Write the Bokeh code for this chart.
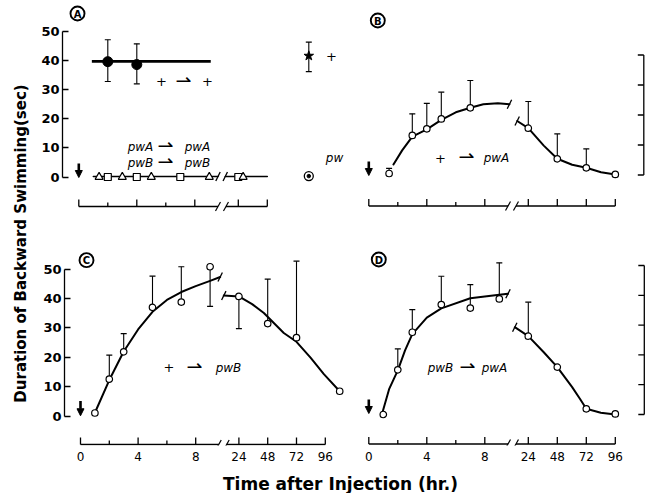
import math
from bokeh.plotting import figure
from bokeh.models import Range1d, LinearAxis, FixedTicker, Arrow, NormalHead
from bokeh.layouts import row, column
from bokeh.embed import file_html
from bokeh.resources import INLINE
from bokeh.core.properties import value

NAN = float("nan")
FONT_NAME = "DejaVu Sans"
FONT = value(FONT_NAME)

# ---------------- data (hours after injection -> seconds of backward swimming) ----------------
X_TICK_HOURS = [0, 2, 4, 6, 8, 24, 48, 72, 96]
X_MAJOR_HOURS = [0, 4, 8, 24, 48, 72, 96]
X_TICK_LABELS = ["0", "4", "8", "24", "48", "72", "96"]
Y_TICKS = [0, 10, 20, 30, 40, 50]

# Panel A : controls
a_wt_hours = [2, 4]
a_wt_sec = [39.5, 38.5]
a_wt_low = [32.7, 31.9]
a_wt_high = [47.0, 45.6]
a_wt_fit_hours = [0.9, 9.1]
a_wt_fit_sec = [39.6, 39.6]
a_sq_hours = [2, 4, 7, 24]
a_sq_sec = [0, 0, 0, 0]
a_tri_hours = [1.4, 3, 5, 9, 28]
a_tri_sec = [0, 0, 0, 0, 0]
a_fit_early_hours = [1.0, 9.6]
a_fit_early_sec = [0.2, 0.2]
a_fit_late_hours = [13.2, 48]
a_fit_late_sec = [0.2, 0.2]
ref_names = ["+", "pw"]
ref_sec = [41.5, 0.3]
ref_low = [36.1, NAN]
ref_high = [46.2, NAN]

# Panel B : + -> pwA
b_hours = [1.4, 3, 4, 5, 7, 24, 48, 72, 96]
b_sec = [0.5, 13.2, 15.4, 18.7, 22.4, 15.6, 5.4, 2.4, 0.2]
b_err = [2.2, 20.4, 23.9, 27.6, 31.5, 24.5, 13.7, 8.7, NAN]
b_fit_early_hours = [1.7, 2.3, 3, 4, 5, 6, 7, 7.9, 8.9, 9.7]
b_fit_early_sec = [3.5, 8.2, 12.8, 15.2, 18.4, 20.9, 22.4, 23.6, 23.9, 23.6]
b_fit_late_hours = [14.8, 24, 36.8, 48, 60.3, 72, 84.2, 96]
b_fit_late_sec = [18.0, 15.6, 9.8, 5.4, 3.4, 2.4, 0.9, 0.2]

# Panel C : + -> pwB
c_hours = [1, 2, 3, 5, 7, 9, 24, 48, 72, 108]
c_sec = [1.1, 12.6, 21.9, 37.0, 38.8, 50.8, 40.7, 31.5, 26.7, 8.5]
c_err = [NAN, 20.8, 28.1, 47.6, 50.8, 37.3, 29.8, 46.6, 52.7, NAN]
c_fit_early_hours = [1, 2, 3, 4, 5, 6, 7, 8, 9, 9.7]
c_fit_early_sec = [1.2, 12.3, 22.0, 29.5, 35.5, 39.5, 42.2, 44.2, 46.0, 47.3]
c_fit_late_hours = [11.4, 24, 35, 44.8, 61.4, 72, 83.7, 94.8, 108]
c_fit_late_sec = [41.0, 40.7, 38.1, 35.1, 28.3, 25.3, 19.9, 14.3, 8.5]

# Panel D : pwB -> pwA
d_hours = [1, 2, 3, 5, 7, 9, 24, 48, 72, 96]
d_sec = [0.0, 15.0, 27.6, 36.9, 35.7, 38.8, 26.3, 15.9, 1.9, 0.2]
d_err = [NAN, 22.0, 35.2, 46.4, 43.6, 50.9, 37.7, NAN, NAN, NAN]
d_fit_early_hours = [0.9, 1.4, 2, 2.5, 3, 4, 5, 7, 9, 9.6]
d_fit_early_sec = [0.0, 8.5, 14.8, 21.5, 27.0, 32.5, 35.6, 39.0, 40.2, 40.5]
d_fit_late_hours = [12.8, 24, 36.8, 48, 60.3, 66.7, 72, 84, 96]
d_fit_late_sec = [29.3, 26.3, 20.9, 15.9, 9.2, 5.3, 1.9, 0.6, 0.0]


def u(h):
    """broken time axis: linear hours up to 10 h, then 12 h per unit from 24 h"""
    return h if h <= 10 else 11 + (h - 24) / 12.0


def key(v):
    return int(round(v)) if abs(v - round(v)) < 1e-9 else v


class Panel:
    def __init__(self, box, frame, xo, sx, yo, sy):
        X0, Y0, W, H = box
        L, R, T, B = frame
        self.xo, self.sx, self.yo, self.sy = xo, sx, yo, sy
        self.p = figure(width=W, height=H,
                        x_range=Range1d((L - xo) / sx, (R - xo) / sx),
                        y_range=Range1d((yo - B) / sy, (yo - T) / sy),
                        output_backend="svg", toolbar_location=None,
                        x_axis_type=None, y_axis_type=None,
                        min_border=0, min_border_left=L - X0, min_border_right=X0 + W - R,
                        min_border_top=T - Y0, min_border_bottom=Y0 + H - B,
                        outline_line_color=None)
        self.p.toolbar.logo = None

    def X(self, px):
        return (px - self.xo) / self.sx

    def Y(self, py):
        return (self.yo - py) / self.sy

    def text(self, xpx, ypx, s, size="12px", style="normal", align="center"):
        self.p.text(x=[self.X(xpx)], y=[self.Y(ypx)], text=[s], text_font=FONT,
                    text_font_size=size, text_font_style=style, text_align=align,
                    text_baseline="middle", text_color="black")

    def circled(self, xpx, ypx, letter):
        self.p.scatter(x=[self.X(xpx)], y=[self.Y(ypx)], marker="circle", size=14,
                       fill_color="white", line_color="black", line_width=1.9)
        self.text(xpx, ypx + 0.5, letter, size="10px", style="bold")

    def arrow(self, top_px, tip_px):
        self.p.add_layout(Arrow(end=NormalHead(size=7, fill_color="black", line_color="black", line_width=1),
                                x_start=0, y_start=self.Y(top_px), x_end=0, y_end=self.Y(tip_px),
                                line_width=2.6, line_color="black"))

    def harpoon(self, xpx, ypx):
        self.text(xpx, ypx, "⇀", size="19px")

    def time_axis(self, ypx, last_hour, labels=False, standoff=6):
        p = self.p
        y = self.Y(ypx)
        left_end, right_start = 9.6, 10.15
        p.segment(x0=[0, right_start], y0=[y, y], x1=[left_end, u(last_hour)], y1=[y, y],
                  line_color="black", line_width=1.3)
        hs = [h for h in X_TICK_HOURS if h <= last_hour]
        xs = [u(h) for h in hs]
        lens = [7 if h in X_MAJOR_HOURS else 4 for h in hs]
        p.segment(x0=xs, y0=[y] * len(xs), x1=xs, y1=[y + l / self.sy for l in lens],
                  line_color="black", line_width=1.3)
        for xc in (left_end, right_start):
            p.segment(x0=[xc - 2.5 / self.sx], y0=[y - 4.5 / self.sy],
                      x1=[xc + 2.5 / self.sx], y1=[y + 4.5 / self.sy],
                      line_color="black", line_width=1.2)
        if labels:
            tick_u = [key(u(h)) for h in X_MAJOR_HOURS]
            ax = LinearAxis(ticker=FixedTicker(ticks=tick_u, minor_ticks=[]),
                            major_label_overrides={k: s for k, s in zip(tick_u, X_TICK_LABELS)},
                            axis_line_color=None, major_tick_line_color=None,
                            minor_tick_line_color=None, major_tick_in=0, major_tick_out=0,
                            major_label_standoff=standoff, major_label_text_font=FONT_NAME,
                            major_label_text_font_size="12px", major_label_text_color="black")
            p.add_layout(ax, "below")

    def left_axis(self):
        ax = LinearAxis(ticker=FixedTicker(ticks=Y_TICKS, minor_ticks=[]), bounds=(0, 50),
                        major_tick_in=6, major_tick_out=0, minor_tick_in=0, minor_tick_out=0,
                        axis_line_width=1.3, major_tick_line_width=1.3,
                        major_label_standoff=3, major_label_text_font=FONT_NAME,
                        major_label_text_font_size="13px", major_label_text_font_style="bold",
                        major_label_text_color="black")
        self.p.add_layout(ax, "left")

    def right_bracket(self, xpx, top):
        """unlabelled right-hand scale drawn as a bracket with inward ticks"""
        ticks = [t for t in Y_TICKS if t <= top]
        x = self.X(xpx)
        self.p.segment(x0=[x], y0=[0], x1=[x], y1=[top], line_color="black", line_width=1.3)
        self.p.segment(x0=[x] * len(ticks), y0=ticks, x1=[x - 6 / self.sx] * len(ticks), y1=ticks,
                       line_color="black", line_width=1.3)

    def curve(self, hours, secs, width=2.0):
        self.p.line(x=[u(h) for h in hours], y=secs, line_color="black", line_width=width,
                    line_join="round", line_cap="round")

    def curve_break(self, hours, secs, idx):
        x, y = u(hours[idx]), secs[idx]
        self.p.segment(x0=[x - 2.2 / self.sx], y0=[y - 4.5 / self.sy],
                       x1=[x + 2.2 / self.sx], y1=[y + 4.5 / self.sy],
                       line_color="black", line_width=1.3)

    def err_points(self, hours, secs, ends, size=6.5):
        xs, y0s, y1s = [], [], []
        for h, s, e in zip(hours, secs, ends):
            if not math.isnan(e):
                xs.append(u(h)); y0s.append(s); y1s.append(e)
        self.p.segment(x0=xs, y0=y0s, x1=xs, y1=y1s, line_color="black", line_width=1.1)
        self.p.scatter(x=xs, y=y1s, marker="dash", size=6, line_color="black", line_width=1.2)
        self.p.scatter(x=[u(h) for h in hours], y=secs, marker="circle", size=size,
                       fill_color="white", line_color="black", line_width=1.2)


# ---------------- panel A ----------------
A = Panel((34, 0, 318, 222), (62, 352, 0, 222), 78.3, 14.5, 176.5, 2.92)
A.left_axis()
A.time_axis(206, 48)
A.p.line(x=[u(h) for h in a_wt_fit_hours], y=a_wt_fit_sec, line_color="black", line_width=2.6)
A.p.segment(x0=[u(h) for h in a_wt_hours], y0=a_wt_low, x1=[u(h) for h in a_wt_hours], y1=a_wt_high,
            line_color="black", line_width=1.1)
A.p.scatter(x=[u(h) for h in a_wt_hours] * 2, y=a_wt_low + a_wt_high, marker="dash", size=6,
            line_color="black", line_width=1.2)
A.p.scatter(x=[u(h) for h in a_wt_hours], y=a_wt_sec, marker="circle", size=10, fill_color="black",
            line_color="black")
A.curve(a_fit_early_hours, a_fit_early_sec, 1.5)
A.curve(a_fit_late_hours, a_fit_late_sec, 1.5)
A.curve_break(a_fit_early_hours, a_fit_early_sec, -1)
A.curve_break(a_fit_late_hours, a_fit_late_sec, 0)
A.p.scatter(x=[u(h) for h in a_sq_hours], y=a_sq_sec, marker="square", size=7, fill_color="white",
            line_color="black", line_width=1.2)
A.p.scatter(x=[u(h) for h in a_tri_hours], y=a_tri_sec, marker="triangle", size=8, fill_color="white",
            line_color="black", line_width=1.2)
# reference strains (wild type "+" and "pw")
ref_x = A.X(308.3)
A.p.segment(x0=[ref_x], y0=[ref_low[0]], x1=[ref_x], y1=[ref_high[0]], line_color="black", line_width=1.1)
A.p.scatter(x=[ref_x, ref_x], y=[ref_low[0], ref_high[0]], marker="dash", size=6, line_color="black",
            line_width=1.2)
A.p.scatter(x=[ref_x], y=[ref_sec[0]], marker="star", size=10, fill_color="black", line_color="black")
A.p.scatter(x=[ref_x], y=[ref_sec[1]], marker="circle", size=9, fill_color="white", line_color="black",
            line_width=1.3)
A.p.scatter(x=[ref_x], y=[ref_sec[1]], marker="circle", size=3.5, fill_color="black", line_color="black")
A.text(331, 56, ref_names[0], size="13px")
A.text(334, 157, ref_names[1], size="12px", style="italic")
A.circled(77, 13, "A")
A.arrow(163, 177)
A.text(161, 81, "+", size="13px")
A.harpoon(183, 79)
A.text(207, 81, "+", size="13px")
A.text(140, 146, "pwA", style="italic")
A.harpoon(165, 144)
A.text(197, 146, "pwA", style="italic")
A.text(140, 162, "pwB", style="italic")
A.harpoon(165, 160)
A.text(197, 162, "pwB", style="italic")

# ---------------- panel B ----------------
B = Panel((352, 0, 295, 222), (352, 646, 0, 222), 368.3, 14.5, 174.5, 3.0)
B.right_bracket(643.3, 40)
B.time_axis(205.5, 96)
B.curve(b_fit_early_hours, b_fit_early_sec)
B.curve(b_fit_late_hours, b_fit_late_sec)
B.curve_break(b_fit_early_hours, b_fit_early_sec, -1)
B.curve_break(b_fit_late_hours, b_fit_late_sec, 0)
B.err_points(b_hours, b_sec, b_err)
B.circled(377.3, 20, "B")
B.arrow(161, 175)
B.text(440, 157.5, "+", size="13px")
B.harpoon(466, 155.5)
B.text(496, 157.5, "pwA", style="italic")

# ---------------- panel C ----------------
C = Panel((34, 222, 318, 248), (64, 352, 222, 447), 80.0, 14.4, 417.5, 2.97)
C.left_axis()
C.time_axis(446, 96, labels=True, standoff=6)
C.curve(c_fit_early_hours, c_fit_early_sec)
C.curve(c_fit_late_hours, c_fit_late_sec)
C.curve_break(c_fit_early_hours, c_fit_early_sec, -1)
C.curve_break(c_fit_late_hours, c_fit_late_sec, 0)
C.err_points(c_hours, c_sec, c_err)
C.circled(86, 260, "C")
C.arrow(402, 417)
C.text(168.5, 368.5, "+", size="13px")
C.harpoon(194, 366.5)
C.text(228, 368.5, "pwB", style="italic")

# ---------------- panel D ----------------
D = Panel((352, 222, 295, 248), (352, 646, 222, 445), 368.3, 14.5, 414.0, 2.98)
D.right_bracket(643.8, 50)
D.time_axis(443.5, 96, labels=True, standoff=6)
D.curve(d_fit_early_hours, d_fit_early_sec)
D.curve(d_fit_late_hours, d_fit_late_sec)
D.curve_break(d_fit_early_hours, d_fit_early_sec, -1)
D.curve_break(d_fit_late_hours, d_fit_late_sec, 0)
D.err_points(d_hours, d_sec, d_err)
D.circled(378.3, 259, "D")
D.arrow(399, 413)
D.text(440, 367, "pwB", style="italic")
D.harpoon(467, 365)
D.text(494, 367, "pwA", style="italic")

# ---------------- shared axis titles ----------------
ylab = figure(width=34, height=493, x_range=Range1d(0, 34), y_range=Range1d(0, 493),
              output_backend="svg", toolbar_location=None, x_axis_type=None, y_axis_type=None,
              min_border=0, outline_line_color=None)
ylab.text(x=[20], y=[493 - 243], text=["Duration of Backward Swimming(sec)"], angle=math.pi / 2,
          text_font=FONT, text_font_size="15px", text_font_style="bold", text_align="center",
          text_baseline="middle", text_color="black")

xlab = figure(width=613, height=23, x_range=Range1d(0, 613), y_range=Range1d(0, 23),
              output_backend="svg", toolbar_location=None, x_axis_type=None, y_axis_type=None,
              min_border=0, outline_line_color=None)
xlab.text(x=[340 - 34], y=[23 - (483 - 470)], text=["Time after Injection (hr.)"],
          text_font=FONT, text_font_size="17px", text_font_style="bold", text_align="center",
          text_baseline="middle", text_color="black")

layout = row(ylab, column(row(A.p, B.p), row(C.p, D.p), xlab))

with open("out.html", "w") as f:
    f.write(file_html(layout, INLINE))
